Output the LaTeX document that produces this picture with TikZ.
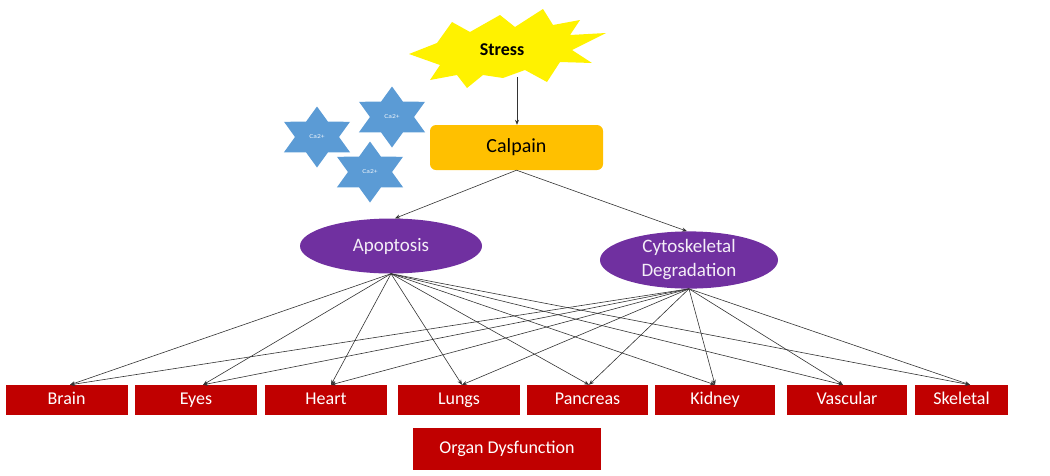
\documentclass[tikz,border=0pt]{standalone}
\usepackage{fontspec}
\setmainfont{Carlito}
\usetikzlibrary{shapes.geometric,arrows.meta}
\definecolor{boxred}{HTML}{C00000}
\definecolor{calorange}{HTML}{FFC000}
\definecolor{starblue}{HTML}{5B9BD5}
\definecolor{purp}{HTML}{7030A0}
\tikzset{
  organ/.style={rectangle, fill=boxred, text=white, minimum height=30pt, inner sep=0pt, text height=12.5pt, text depth=3.5pt, font=\fontsize{18}{20}\selectfont},
  castar/.style={star, star points=6, star point ratio=1.73, minimum size=61pt, inner sep=0pt, fill=starblue, text=white!90!starblue, font=\fontsize{6}{7}\selectfont, xscale=1.25},
  oval/.style={ellipse, fill=purp, text=white!92!purp, inner sep=0pt, font=\fontsize{19}{24}\selectfont, align=center},
  conn/.style={draw=black!80, line width=0.6pt, -{Stealth[length=5pt,width=4pt]}},
}
\begin{document}
\begin{tikzpicture}[x=1pt,y=-1pt]
\useasboundingbox (0,0) rectangle (1050,475);
% Stress burst
\fill[yellow] (409,54) -- (437,43) -- (452,22) -- (470,32) -- (500,15) -- (515,27) -- (543,9) -- (553,25) -- (580,20) -- (570,35) -- (606,33) -- (572,50) -- (592,63) -- (560,62) -- (547,82) -- (525,70) -- (503,78) -- (483,75) -- (467,88) -- (457,75) -- (430,80) -- (440,65) -- cycle;
\node[font=\bfseries\fontsize{18}{20}\selectfont] (stress) at (502,50) {Stress};
\coordinate (stressbot) at (517,77);
% Calpain
\node[rectangle, rounded corners=6pt, fill=calorange, minimum width=173pt, minimum height=45pt, inner sep=0pt, font=\fontsize{20}{22}\selectfont] (calpain) at (516.5,147.5) {Calpain};
% Ca2+ stars
\node[castar] (ca1) at (317,137) {Ca2+};
\node[castar] (ca2) at (392,117) {Ca2+};
\node[castar] (ca3) at (370,172) {Ca2+};
% Ellipses
\node[oval, minimum width=182pt, minimum height=55pt] (apo) at (391,246) {Apoptosis};
\node[oval, minimum width=178pt, minimum height=56pt] (cyto) at (689,260) {Cytoskeletal\\Degradation};
% Organ boxes
\node[organ, minimum width=122pt] (brain) at (66.5,400) {Brain};
\node[organ, minimum width=122pt] (eyes) at (196,400) {Eyes};
\node[organ, minimum width=122pt] (heart) at (326,400) {Heart};
\node[organ, minimum width=122pt] (lungs) at (459,400) {Lungs};
\node[organ, minimum width=121pt] (pancreas) at (587.5,400) {Pancreas};
\node[organ, minimum width=120pt] (kidney) at (715,400) {Kidney};
\node[organ, minimum width=120pt] (vascular) at (847,400) {Vascular};
\node[organ, minimum width=93pt] (skeletal) at (961.5,400) {Skeletal};
\node[organ, minimum width=188pt, minimum height=42pt] (organ) at (507,449) {Organ Dysfunction};
% connectors
\draw[conn] (stressbot) -- (calpain.north -| stressbot);
\draw[conn] (calpain.south) -- ([xshift=4pt]apo.north);
\draw[conn] (calpain.south) -- ([xshift=-2pt]cyto.north);
\foreach \t/\dx in {brain/3.5, eyes/7, heart/5, lungs/3, pancreas/1.5, kidney/0, vascular/-4, skeletal/8.5}{
  \draw[conn] (apo.south) -- ([xshift=\dx pt]\t.north);
  \draw[conn] (cyto.south) -- ([xshift=\dx pt]\t.north);
}
\end{tikzpicture}
\end{document}
